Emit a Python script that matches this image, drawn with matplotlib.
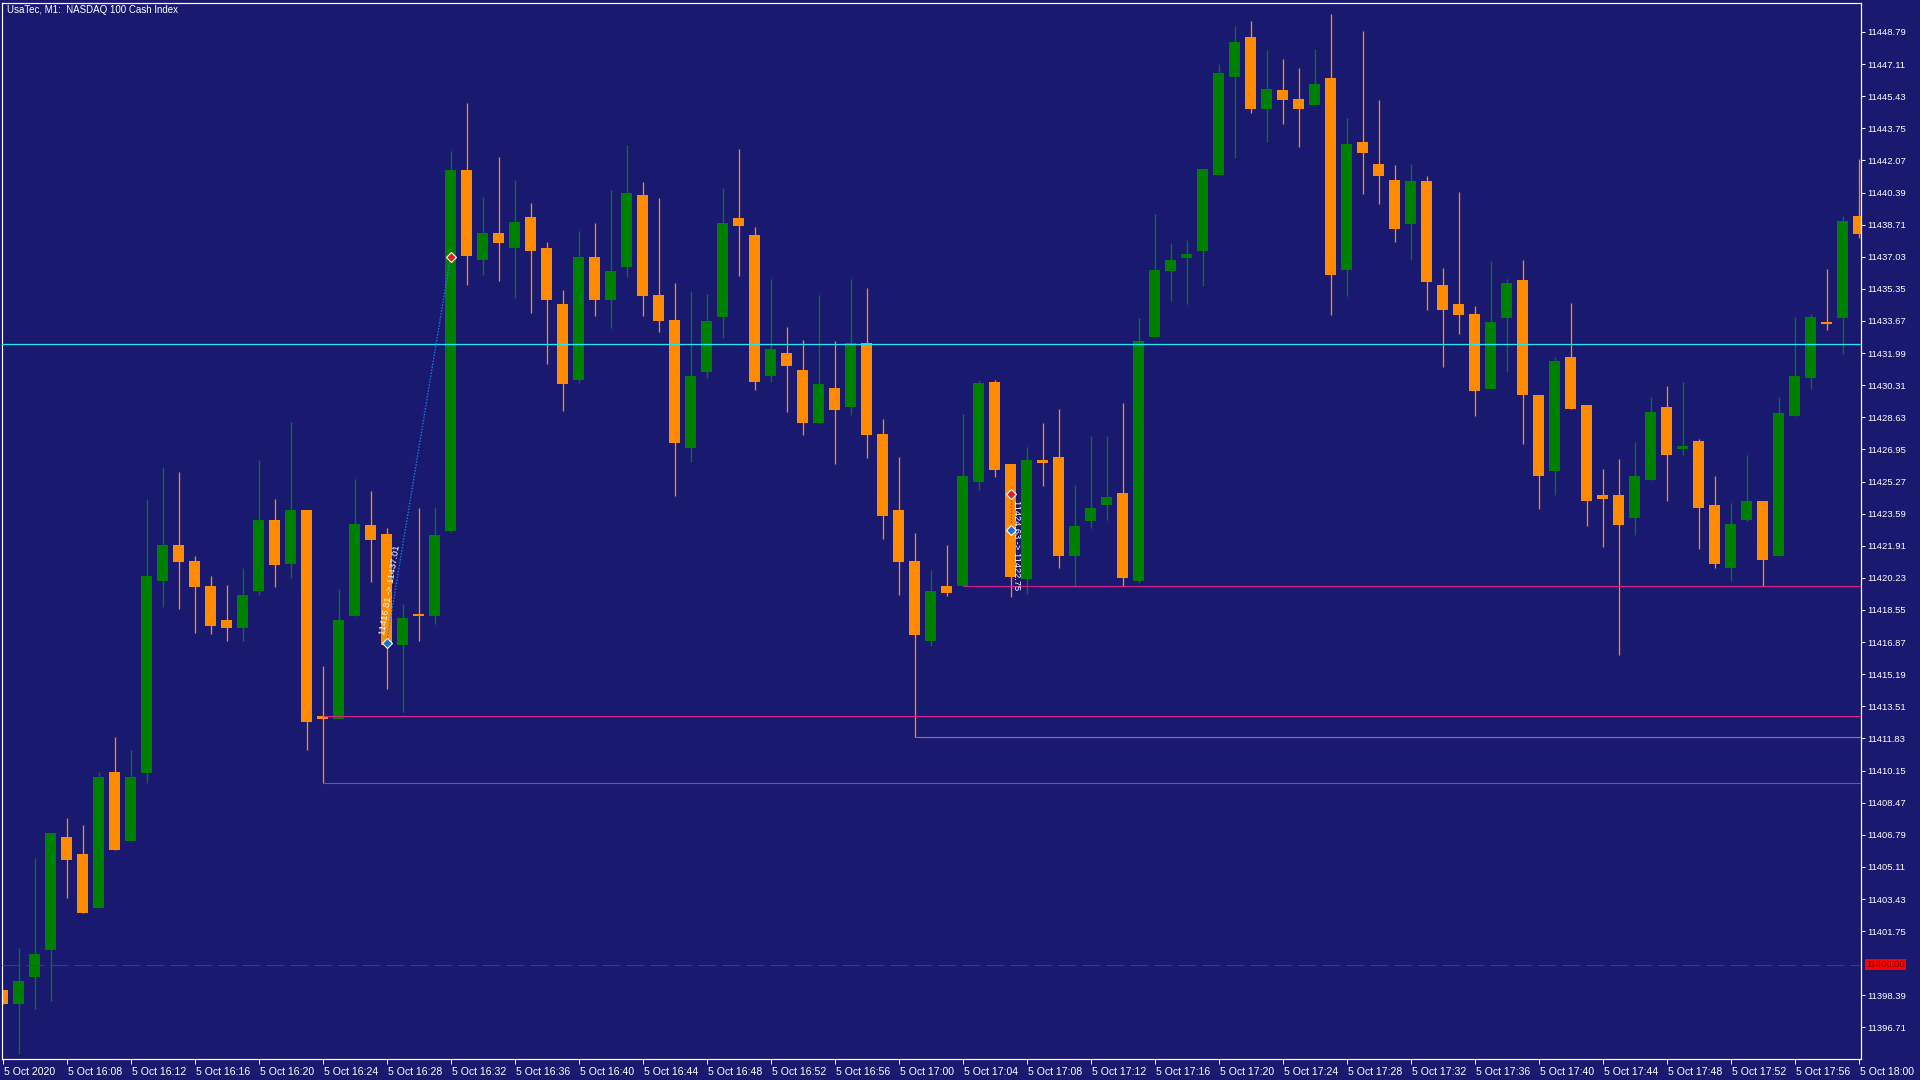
import matplotlib
matplotlib.use('Agg')
import matplotlib.pyplot as plt
import matplotlib.transforms as mtransforms
import numpy as np

plt.rcParams['lines.scale_dashes'] = False
plt.rcParams['font.family'] = ['Liberation Sans', 'DejaVu Sans']

# ---------------- data ----------------
title = "UsaTec, M1:  NASDAQ 100 Cash Index"

opens = [11398.66, 11397.95, 11399.36, 11400.78, 11406.65, 11405.80, 11402.97, 11410.05, 11406.48, 11410.01,
         11420.06, 11421.94, 11421.09, 11419.78, 11418.05, 11417.59, 11419.53, 11423.28, 11420.98, 11423.78,
         11413.02, 11412.85, 11418.22, 11422.97, 11422.51, 11416.74, 11418.36, 11418.22, 11422.68, 11441.58,
         11436.84, 11438.25, 11437.47, 11439.10, 11437.47, 11434.54, 11430.57, 11437.01, 11434.75, 11436.48,
         11440.27, 11435.03, 11433.72, 11427.00, 11431.00, 11433.86, 11439.07, 11438.15, 11430.79, 11431.99,
         11431.10, 11428.31, 11430.15, 11429.19, 11432.52, 11427.74, 11423.78, 11421.09, 11416.95, 11419.78,
         11419.78, 11425.23, 11430.50, 11426.19, 11420.17, 11426.40, 11426.57, 11421.37, 11423.18, 11424.06,
         11424.66, 11420.06, 11432.84, 11436.27, 11436.98, 11437.33, 11441.29, 11446.43, 11448.51, 11444.76,
         11445.75, 11445.29, 11444.97, 11446.39, 11436.34, 11443.03, 11441.86, 11441.05, 11438.75, 11440.98,
         11435.53, 11434.54, 11434.04, 11430.11, 11433.83, 11435.81, 11429.79, 11425.80, 11431.81, 11429.26,
         11424.56, 11424.59, 11423.35, 11425.34, 11429.16, 11426.96, 11427.39, 11424.03, 11420.74, 11423.28,
         11424.27, 11421.37, 11428.70, 11430.68, 11433.62, 11433.83, 11439.14]
highs = [11398.66, 11400.88, 11405.59, 11406.86, 11407.68, 11407.29, 11410.05, 11411.92, 11411.25, 11424.38,
         11426.01, 11425.76, 11421.37, 11420.35, 11419.85, 11420.77, 11426.40, 11424.38, 11428.38, 11423.78,
         11415.64, 11419.64, 11425.41, 11424.77, 11422.82, 11418.86, 11423.89, 11423.92, 11442.57, 11445.08,
         11440.16, 11442.25, 11441.05, 11439.84, 11437.79, 11435.31, 11438.36, 11438.78, 11440.52, 11442.89,
         11440.94, 11440.09, 11435.63, 11435.24, 11435.07, 11440.62, 11442.68, 11438.57, 11435.85, 11433.33,
         11432.66, 11435.03, 11432.63, 11435.85, 11435.39, 11428.52, 11426.57, 11422.58, 11420.63, 11421.94,
         11428.80, 11430.57, 11430.57, 11426.19, 11427.07, 11428.31, 11429.09, 11425.09, 11427.64, 11427.67,
         11429.37, 11433.83, 11439.24, 11437.76, 11437.90, 11441.61, 11447.13, 11449.12, 11449.36, 11447.84,
         11447.38, 11446.89, 11447.91, 11449.72, 11444.27, 11448.83, 11445.22, 11441.83, 11441.86, 11441.26,
         11436.45, 11440.41, 11434.43, 11436.80, 11435.85, 11436.84, 11429.79, 11431.81, 11434.61, 11429.26,
         11425.90, 11426.43, 11427.32, 11429.69, 11430.25, 11430.50, 11427.49, 11425.58, 11424.13, 11426.65,
         11424.27, 11429.69, 11433.86, 11434.04, 11436.38, 11439.14, 11442.14]
lows = [11397.95, 11395.33, 11397.70, 11398.12, 11403.50, 11402.72, 11402.97, 11405.98, 11406.48, 11409.52,
        11418.68, 11418.58, 11417.34, 11417.27, 11416.95, 11416.95, 11419.32, 11419.75, 11420.21, 11411.25,
        11409.52, 11412.85, 11418.22, 11419.99, 11414.40, 11413.23, 11416.95, 11417.83, 11422.61, 11435.53,
        11436.06, 11435.74, 11434.86, 11434.08, 11431.42, 11428.98, 11430.40, 11433.93, 11433.30, 11435.95,
        11433.93, 11433.09, 11424.52, 11426.29, 11430.71, 11432.80, 11436.02, 11430.04, 11430.47, 11428.91,
        11427.71, 11428.31, 11426.19, 11428.73, 11426.50, 11422.26, 11419.32, 11411.92, 11416.67, 11419.29,
        11419.78, 11424.81, 11425.51, 11419.21, 11419.36, 11425.02, 11420.77, 11419.78, 11422.86, 11423.25,
        11419.78, 11419.96, 11432.84, 11434.71, 11434.54, 11435.49, 11441.29, 11442.18, 11444.55, 11443.03,
        11443.98, 11442.78, 11444.97, 11433.97, 11434.96, 11440.30, 11439.77, 11437.79, 11436.84, 11434.22,
        11431.25, 11433.01, 11428.70, 11430.11, 11431.00, 11427.21, 11423.81, 11424.59, 11429.09, 11422.93,
        11421.83, 11416.17, 11422.47, 11425.34, 11424.27, 11426.68, 11421.76, 11420.74, 11420.06, 11423.18,
        11419.78, 11421.37, 11428.70, 11430.11, 11433.19, 11431.95, 11438.01]
closes = [11397.95, 11399.12, 11400.57, 11406.86, 11405.48, 11402.72, 11409.80, 11405.98, 11409.80, 11420.31,
          11421.94, 11421.05, 11419.75, 11417.73, 11417.59, 11419.32, 11423.28, 11420.88, 11423.78, 11412.70,
          11412.85, 11418.01, 11423.07, 11422.19, 11416.74, 11418.12, 11418.22, 11422.47, 11441.58, 11437.05,
          11438.25, 11437.76, 11438.85, 11437.33, 11434.75, 11430.36, 11437.01, 11434.75, 11436.27, 11440.37,
          11435.00, 11433.65, 11427.28, 11430.79, 11433.65, 11438.78, 11438.64, 11430.50, 11432.20, 11431.32,
          11428.31, 11430.36, 11429.02, 11432.52, 11427.71, 11423.46, 11421.05, 11417.23, 11419.53, 11419.46,
          11425.55, 11430.40, 11425.87, 11420.28, 11426.40, 11426.22, 11421.37, 11422.93, 11423.89, 11424.45,
          11420.21, 11432.63, 11436.34, 11436.84, 11437.15, 11441.61, 11446.64, 11448.27, 11444.76, 11445.79,
          11445.22, 11444.76, 11446.07, 11436.06, 11442.92, 11442.46, 11441.26, 11438.46, 11440.98, 11435.70,
          11434.22, 11433.97, 11430.01, 11433.62, 11435.63, 11429.79, 11425.55, 11431.56, 11429.09, 11424.24,
          11424.38, 11422.97, 11425.55, 11428.91, 11426.68, 11427.11, 11423.89, 11420.98, 11423.04, 11424.27,
          11421.16, 11428.84, 11430.79, 11433.86, 11433.51, 11438.89, 11438.22]

xtick_labels = ["5 Oct 2020", "5 Oct 16:08", "5 Oct 16:12", "5 Oct 16:16", "5 Oct 16:20", "5 Oct 16:24",
                "5 Oct 16:28", "5 Oct 16:32", "5 Oct 16:36", "5 Oct 16:40", "5 Oct 16:44", "5 Oct 16:48",
                "5 Oct 16:52", "5 Oct 16:56", "5 Oct 17:00", "5 Oct 17:04", "5 Oct 17:08", "5 Oct 17:12",
                "5 Oct 17:16", "5 Oct 17:20", "5 Oct 17:24", "5 Oct 17:28", "5 Oct 17:32", "5 Oct 17:36",
                "5 Oct 17:40", "5 Oct 17:44", "5 Oct 17:48", "5 Oct 17:52", "5 Oct 17:56", "5 Oct 18:00"]
xtick_index = list(range(0, 117, 4))

ytick_values = [11396.71, 11398.39, 11401.75, 11403.43, 11405.11, 11406.79, 11408.47, 11410.15,
                11411.83, 11413.51, 11415.19, 11416.87, 11418.55, 11420.23, 11421.91, 11423.59, 11425.27,
                11426.95, 11428.63, 11430.31, 11431.99, 11433.67, 11435.35, 11437.03, 11438.71, 11440.39,
                11442.07, 11443.75, 11445.43, 11447.11, 11448.79]

cyan_level = 11432.45
level_values = [11419.78, 11413.02, 11411.92, 11409.52]
level_start = [60, 20, 57, 20]
bid_level = 11400.00
bid_label = "11400.00"

trade1_idx = [24, 28]
trade1_price = [11416.81, 11437.01]
trade1_text = "11416.81 -> 11437.01"
trade2_idx = [63, 63]
trade2_price = [11424.63, 11422.75]
trade2_text = "11424.63 -> 11422.75"

# ---------------- style ----------------
BG = '#191970'
UP = '#008000'
DOWN = '#FF8C00'
W, H = 1920, 1080
PX = 72.0 / 100.0  # points per pixel

fig = plt.figure(figsize=(19.2, 10.8), dpi=100, facecolor=BG)
ax = fig.add_axes([2 / W, 21 / H, (1861 - 2) / W, (1059 - 2.5) / H])
ax.set_facecolor(BG)

n = len(opens)
x = np.arange(n)
o = np.array(opens); h = np.array(highs); l = np.array(lows); c = np.array(closes)
colors = [UP if cc >= oo else DOWN for oo, cc in zip(o, c)]

ax.vlines(x, l, h, colors=colors, linewidth=1.0 * PX * 1.3, zorder=2)
bottoms = np.minimum(o, c)
heights = np.maximum(np.abs(c - o), 0.08)
ax.bar(x, heights, bottom=bottoms, width=11 / 16, color=colors, linewidth=0, zorder=2.1)

ax.set_xlim((2 - 2.5) / 16, (1861 - 2.5) / 16)
ax.set_ylim(11395.06, 11450.33)

# horizontal lines
ax.axhline(cyan_level, color='#22E6F5', linewidth=1.3 * PX, zorder=3)
level_colors = ['#D8208C', '#D8208C', '#B060B0', '#D8208C']
for lv, st, lc in zip(level_values, level_start, level_colors):
    ax.hlines(lv, st, ax.get_xlim()[1], colors=lc, linewidth=1.1 * PX, zorder=3)
ax.axhline(bid_level, color='#E00000', linewidth=1.0 * PX, zorder=3,
           dashes=(18 * PX, 6 * PX))

# trades
ax.plot(trade1_idx, trade1_price, color='#1C7CE0', linewidth=1.3 * PX, linestyle=(0, (1.5 * PX, 1.5 * PX)), zorder=4)
ax.plot(trade2_idx, trade2_price, color='#E03030', linewidth=1.3 * PX, linestyle=(0, (1.5 * PX, 1.5 * PX)), zorder=4)
ax.plot([trade1_idx[0]], [trade1_price[0]], marker='D', ms=5, mfc='#1E70D0', mec='white', mew=0.8, zorder=5)
ax.plot([trade1_idx[1]], [trade1_price[1]], marker='D', ms=5, mfc='#E02020', mec='white', mew=0.8, zorder=5)
ax.plot([trade2_idx[0]], [trade2_price[0]], marker='D', ms=5, mfc='#E02020', mec='white', mew=0.8, zorder=5)
ax.plot([trade2_idx[1]], [trade2_price[1]], marker='D', ms=5, mfc='#1E70D0', mec='white', mew=0.8, zorder=5)

p1 = ax.transData.transform((trade1_idx[0], trade1_price[0]))
p2 = ax.transData.transform((trade1_idx[1], trade1_price[1]))
ang = np.degrees(np.arctan2(p2[1] - p1[1], p2[0] - p1[0]))
ux, uy = np.cos(np.radians(ang)), np.sin(np.radians(ang))
ax.annotate(trade1_text, xy=(trade1_idx[0], trade1_price[0]), xytext=(ux * 8 - uy * 1, uy * 8 + ux * 1),
            textcoords='offset pixels', rotation=ang, rotation_mode='anchor', ha='left', va='bottom',
            color='white', fontsize=6.7, zorder=6)
ax.annotate(trade2_text, xy=(trade2_idx[0], trade2_price[0]), xytext=(1, -6),
            textcoords='offset pixels', rotation=-90, rotation_mode='anchor', ha='left', va='bottom',
            color='white', fontsize=6.7, zorder=6)

# axes / ticks
for s in ax.spines.values():
    s.set_color('white')
    s.set_linewidth(1.0 * PX * 1.2)

ax.set_xticks(xtick_index)
ax.set_xticklabels(xtick_labels)
ax.tick_params(axis='x', colors='white', length=5 * PX, width=1.0 * PX, direction='out', labelsize=7.6, pad=2)
offset = mtransforms.ScaledTranslation(2 / 100, 0, fig.dpi_scale_trans)
for lab in ax.get_xticklabels():
    lab.set_horizontalalignment('left')
    lab.set_transform(lab.get_transform() + offset)

ax.set_yticks(ytick_values)
ax.set_yticklabels([f"{v:.2f}" for v in ytick_values])
ax.tick_params(axis='y', left=False, right=True, labelleft=False, labelright=True, colors='white',
               length=4 * PX, width=1.0 * PX, direction='out', labelsize=6.8, pad=1.5)

ax.annotate(bid_label, xy=(1, bid_level), xycoords=('axes fraction', 'data'), xytext=(5, 0),
            textcoords='offset pixels', ha='left', va='center', color='#6A0000', fontsize=6.8,
            bbox=dict(boxstyle='square,pad=0.15', fc='#FF0000', ec='none'), annotation_clip=False, zorder=7)

fig.text(7 / W, 1 - 10 / H, title, color='white', fontsize=7.0, ha='left', va='center')

fig.savefig('out.png', dpi=100, facecolor=BG)
